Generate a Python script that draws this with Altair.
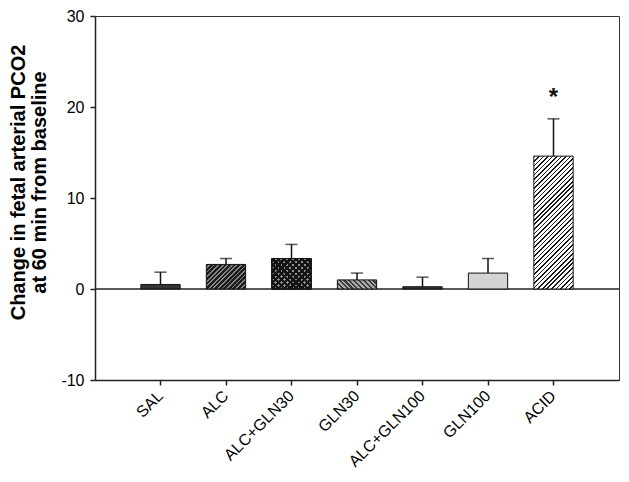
import math
import altair as alt
import pandas as pd

# ---- data ----
cats = ["SAL", "ALC", "ALC+GLN30", "GLN30", "ALC+GLN100", "GLN100", "ACID"]
means = [0.5, 2.7, 3.35, 1.0, 0.25, 1.75, 14.6]
errs = [1.35, 0.65, 1.55, 0.75, 1.05, 1.6, 4.1]
sig = ["", "", "", "", "", "", "*"]
y_ticks = [-10, 0, 10, 20, 30]
y_title = ["Change in fetal arterial PCO2", "at 60 min from baseline"]

df = pd.DataFrame({"cat": cats, "mean": means, "err": errs, "sig": sig})
df["upper"] = df["mean"] + df["err"]

# ---- layout ----
W, H = 524, 364
TOP = 8
Y_MIN, Y_MAX = -10, 30
PAD_IN, PAD_OUT = 0.4, 0.7
step = W / (len(cats) - PAD_IN + 2 * PAD_OUT)
bw = step * (1 - PAD_IN)
ppu = H / (Y_MAX - Y_MIN)
FONT = "Liberation Sans"


def stripes(value, direction, period, frac, fg, bg):
    """Hatch fill built as a hard-stop linear gradient."""
    w, h = bw, max(value * ppu, 1.0)
    a, b = 1.0 / h, 1.0 / w
    c = (a + b) / (a * a + b * b)
    if direction == "/":
        x1, y1, x2, y2 = 0, 0, c * a, c * b
    else:
        x1, y1, x2, y2 = 0, 1, c * a, 1 - c * b
    n = max(1, round((w + h) / math.sqrt(2) / period))
    stops = []
    for k in range(n):
        o0, o1, o2 = k / n, (k + frac) / n, (k + 1) / n
        stops += [(o0, fg), (o1, fg), (o1, bg), (o2, bg)]
    return alt.LinearGradient(
        gradient="linear",
        x1=x1, y1=y1, x2=x2, y2=y2,
        stops=[alt.GradientStop(offset=round(o, 5), color=col) for o, col in stops],
    )


xenc = alt.X(
    "cat:N",
    sort=cats,
    scale=alt.Scale(domain=cats, paddingInner=PAD_IN, paddingOuter=PAD_OUT),
    axis=alt.Axis(title=None, labelAngle=-45, labelAlign="right", labelBaseline="middle",
                  labelPadding=8),
)
yscale = alt.Scale(domain=[Y_MIN, Y_MAX], nice=False, zero=False)
yaxis = alt.Axis(
    values=y_ticks, labelExpr="'' + datum.value",
    title=y_title, titleFontSize=20, titleFontWeight="bold",
    titleFont=FONT, titleColor="#000", titleAngle=-90, titleAlign="center",
    titleBaseline="middle", titleX=-77, titleY=166, titleLineHeight=21,
    labelPadding=6,
)

zero = alt.Chart(pd.DataFrame({"v": [0]})).mark_rule(color="#222", strokeWidth=1.5).encode(
    y=alt.Y("v:Q", scale=yscale, axis=yaxis)
)

TRANSPARENT = "rgba(0,0,0,0)"
fills = {
    "SAL": "#353535",
    "ALC": stripes(means[1], "/", 3.2, 0.6, "#1c1c1c", "#858585"),
    "ALC+GLN30": "#8c8c8c",
    "GLN30": stripes(means[3], "\\", 3.4, 0.45, "#3a3a3a", "#a8a8a8"),
    "ALC+GLN100": "#353535",
    "GLN100": "#d3d3d3",
    "ACID": stripes(means[6], "/", 3.2, 0.35, "#1a1a1a", "#ffffff"),
}

layers = [zero]
for cat in cats:
    base = alt.Chart(df).transform_filter(alt.datum.cat == cat)
    layers.append(
        base.mark_bar(fill=fills[cat], stroke="#111", strokeWidth=1).encode(
            x=xenc, y=alt.Y("mean:Q", scale=yscale, axis=yaxis)
        )
    )
    if cat == "ALC+GLN30":
        v = means[cats.index(cat)]
        for d in ["/", "\\"]:
            layers.append(
                base.mark_bar(fill=stripes(v, d, 4.0, 0.55, "#141414", TRANSPARENT),
                              stroke="#111", strokeWidth=1).encode(
                    x=xenc, y=alt.Y("mean:Q", scale=yscale, axis=yaxis)
                )
            )

err_rule = alt.Chart(df).mark_rule(color="#111", strokeWidth=1.5).encode(
    x=xenc, y=alt.Y("mean:Q", scale=yscale, axis=yaxis), y2="upper:Q"
)
err_cap = alt.Chart(df).mark_tick(color="#111", size=12, thickness=1.5).encode(
    x=xenc, y=alt.Y("upper:Q", scale=yscale, axis=yaxis)
)
stars = alt.Chart(df).transform_filter(alt.datum.sig != "").mark_text(
    font=FONT, fontSize=24, fontWeight="bold", color="#111", baseline="alphabetic", dy=-14
).encode(x=xenc, y=alt.Y("upper:Q", scale=yscale, axis=yaxis), text="sig:N")

layers += [err_rule, err_cap, stars]

chart = alt.layer(*layers).properties(
    width=W, height=H,
    autosize=alt.AutoSizeParams(type="none"),
    padding={"left": 87, "top": TOP, "right": 2, "bottom": 100},
).configure_view(
    stroke="#333", strokeWidth=1
).configure_axis(
    grid=False, domainColor="#222", domainWidth=1.5, tickColor="#222", tickWidth=1.5,
    tickSize=5, labelFont=FONT, labelFontSize=16, labelColor="#000",
)

chart.save("out.html", embed_options={"renderer": "svg", "actions": False})
